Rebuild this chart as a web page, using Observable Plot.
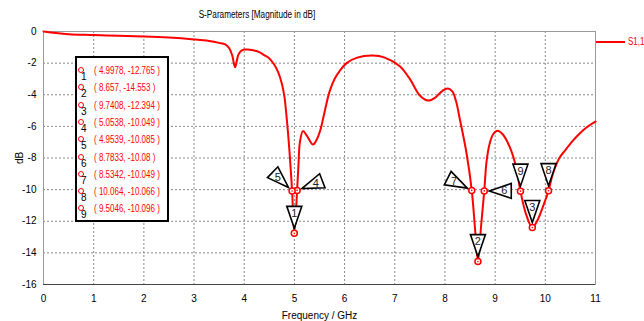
<!DOCTYPE html>
<html>
<head>
<meta charset="utf-8">
<script src="https://cdn.jsdelivr.net/npm/d3@7"></script>
<script src="https://cdn.jsdelivr.net/npm/@observablehq/plot@0.6"></script>
<style>
  html, body { margin: 0; padding: 0; background: white; }
  #wrap { position: relative; width: 644px; height: 321px; overflow: hidden; font-family: "Liberation Sans", sans-serif; }
  #wrap svg { position: absolute; left: 0; top: 0; }
  .ov { position: absolute; white-space: nowrap; font-size: 10px; line-height: 10px; }
  #title { left: 0; width: 514px; top: 10px; text-align: center; color: #000; transform: scaleX(0.82); transform-origin: 257px 0; }
  #legbox { left: 75px; top: 56px; width: 90px; height: 162px; border: 2px solid #000; background: #fff; }
  .row { position: absolute; left: 0; height: 17px; }
  .row .o { position: absolute; left: -1px; top: -4px; width: 4px; height: 4px; border: 1.6px solid #f00; border-radius: 50%; }
  .row .n { position: absolute; left: 2px; top: 1px; font-size: 10px; color: #000; }
  .row .t { position: absolute; left: 15px; top: -5px; font-size: 10px; color: #f00; transform: scaleX(0.8); transform-origin: 0 0; }
  #sleg { left: 596px; top: 37px; color: #f00; }
  #sleg .ln { display: inline-block; width: 29px; height: 2px; background: #f00; vertical-align: middle; margin-right: 3px; }
  #sleg .lt { display: inline-block; transform: scaleX(0.8); transform-origin: 0 0; }
</style>
</head>
<body>
<div id="wrap"></div>
<script>
// S1,1 magnitude curve (GHz, dB)
const freq = [0, 0.25, 0.5, 1.0, 1.5, 2.0, 2.5, 3.0, 3.3, 3.5, 3.62, 3.7, 3.76, 3.8, 3.82, 3.85, 3.88, 3.93, 4.0, 4.1, 4.2, 4.3, 4.4, 4.5, 4.6, 4.68, 4.75, 4.8, 4.85, 4.9, 4.9539, 4.9978, 5.0538, 5.08, 5.11, 5.17, 5.25, 5.37, 5.45, 5.52, 5.6, 5.7, 5.8, 5.9, 6.04, 6.25, 6.56, 6.8, 7.1, 7.3, 7.5, 7.66, 7.8, 7.95, 8.06, 8.15, 8.22, 8.3, 8.43, 8.5342, 8.6, 8.657, 8.72, 8.7833, 8.83, 8.89, 8.96, 9.05, 9.15, 9.29, 9.42, 9.5046, 9.62, 9.7408, 9.85, 9.95, 10.064, 10.15, 10.28, 10.4, 10.55, 10.7, 10.82, 11.0];
const s11 = [0, -0.1, -0.17, -0.22, -0.27, -0.31, -0.38, -0.5, -0.6, -0.72, -0.82, -1.05, -1.5, -2.1, -2.26, -1.9, -1.5, -1.25, -1.14, -1.15, -1.2, -1.3, -1.5, -1.7, -2.1, -2.6, -3.3, -4.1, -5.6, -7.5, -10.085, -12.765, -10.049, -8.5, -7.0, -6.3, -6.6, -7.15, -6.8, -6.2, -5.1, -3.8, -3.0, -2.5, -2.0, -1.65, -1.52, -1.65, -2.2, -3.0, -4.05, -4.37, -4.2, -3.75, -3.6, -3.8, -4.4, -5.6, -7.7, -10.049, -12.5, -14.553, -12.3, -10.08, -8.2, -7.1, -6.5, -6.27, -6.5, -7.3, -8.6, -10.096, -11.6, -12.394, -11.9, -11.1, -10.066, -9.0, -8.0, -7.5, -6.9, -6.4, -6.07, -5.7];

// markers
const markerIds = [1, 2, 3, 4, 5, 6, 7, 8, 9];
const markerFreq = [4.9978, 8.657, 9.7408, 5.0538, 4.9539, 8.7833, 8.5342, 10.064, 9.5046];
const markerDb = [-12.765, -14.553, -12.394, -10.049, -10.085, -10.08, -10.049, -10.066, -10.096];

// axis ticks
const xTicks = [0, 1, 2, 3, 4, 5, 6, 7, 8, 9, 10, 11];
const yTicks = [0, -2, -4, -6, -8, -10, -12, -14, -16];

const titleText = "S-Parameters [Magnitude in dB]";
const seriesName = "S1,1";
const xLabel = "Frequency / GHz";
const yLabel = "dB";

// orientation of each marker's triangle (degrees clockwise from "above")
const markerAngle = [0, 0, 0, 69, -46, 90, -63, 0, 0];

const curve = freq.map((f, i) => ({f, db: s11[i]}));
const markers = markerIds.map((id, i) => ({id, f: markerFreq[i], db: markerDb[i], a: markerAngle[i]}));

function tri(angleDeg) {
  const a = angleDeg * Math.PI / 180, c = Math.cos(a), s = Math.sin(a);
  const rot = ([x, y]) => [x * c - y * s, x * s + y * c];
  const pts = [[0, -5], [-7.5, -27], [7.5, -27]].map(rot);
  return {draw(ctx) { ctx.moveTo(...pts[0]); ctx.lineTo(...pts[1]); ctx.lineTo(...pts[2]); ctx.closePath(); }};
}

const markMarks = markers.flatMap(m => {
  const a = m.a * Math.PI / 180, d = 20;
  return [
    Plot.dot([m], {x: "f", y: "db", r: 1, symbol: tri(m.a), fill: "white", stroke: "black", strokeWidth: 1.6}),
    Plot.text([m], {x: "f", y: "db", text: d => String(d.id), dx: Math.sin(a) * d, dy: -Math.cos(a) * d, fill: "#222", fontSize: 11})
  ];
});

const chart = Plot.plot({
  width: 644, height: 321,
  marginLeft: 43, marginRight: 49, marginTop: 31, marginBottom: 37,
  style: {fontFamily: '"Liberation Sans", sans-serif', fontSize: "10px", color: "#000", background: "transparent"},
  x: {domain: [0, 11]},
  y: {domain: [-16, 0]},
  marks: [
    Plot.gridX(xTicks, {stroke: "#888", strokeOpacity: 1, strokeDasharray: "2,2"}),
    Plot.gridY(yTicks, {stroke: "#888", strokeOpacity: 1, strokeDasharray: "2,2"}),
    Plot.frame({stroke: "#999"}),
    Plot.ruleY([-16], {stroke: "#444", strokeWidth: 1.2}),
    Plot.axisX({ticks: xTicks, tickSize: 0, tickPadding: 10, label: xLabel, labelAnchor: "center", labelArrow: "none", labelOffset: 34, tickFormat: d => String(d)}),
    Plot.axisY({ticks: yTicks, tickSize: 0, tickPadding: 7, label: yLabel, labelAnchor: "center", labelArrow: "none", labelOffset: 28, tickFormat: d => String(d)}),
    Plot.line(curve, {x: "f", y: "db", stroke: "#ff0000", strokeWidth: 2, curve: "catmull-rom"}),
    ...markMarks,
    Plot.dot(markers, {x: "f", y: "db", r: 3, fill: "white", stroke: "#ff0000", strokeWidth: 1.5}),
    Plot.dot(markers, {x: "f", y: "db", r: 0.8, fill: "#ff0000"})
  ]
});

const wrap = document.getElementById("wrap");
wrap.appendChild(chart);

const t = document.createElement("div");
t.className = "ov"; t.id = "title"; t.textContent = titleText;
wrap.appendChild(t);

const s = document.createElement("div");
s.className = "ov"; s.id = "sleg";
s.innerHTML = '<span class="ln"></span><span class="lt"></span>';
s.querySelector(".lt").textContent = seriesName;
wrap.appendChild(s);

const box = document.createElement("div");
box.className = "ov"; box.id = "legbox";
markers.forEach((m, i) => {
  const r = document.createElement("div");
  r.className = "row";
  r.style.top = (13 + i * 17.3) + "px";
  r.style.left = "2px";
  r.innerHTML = '<span class="o"></span><span class="n"></span><span class="t"></span>';
  r.querySelector(".n").textContent = String(m.id);
  r.querySelector(".t").textContent = "( " + m.f + ", " + m.db + " )";
  box.appendChild(r);
});
wrap.appendChild(box);
</script>
</body>
</html>
